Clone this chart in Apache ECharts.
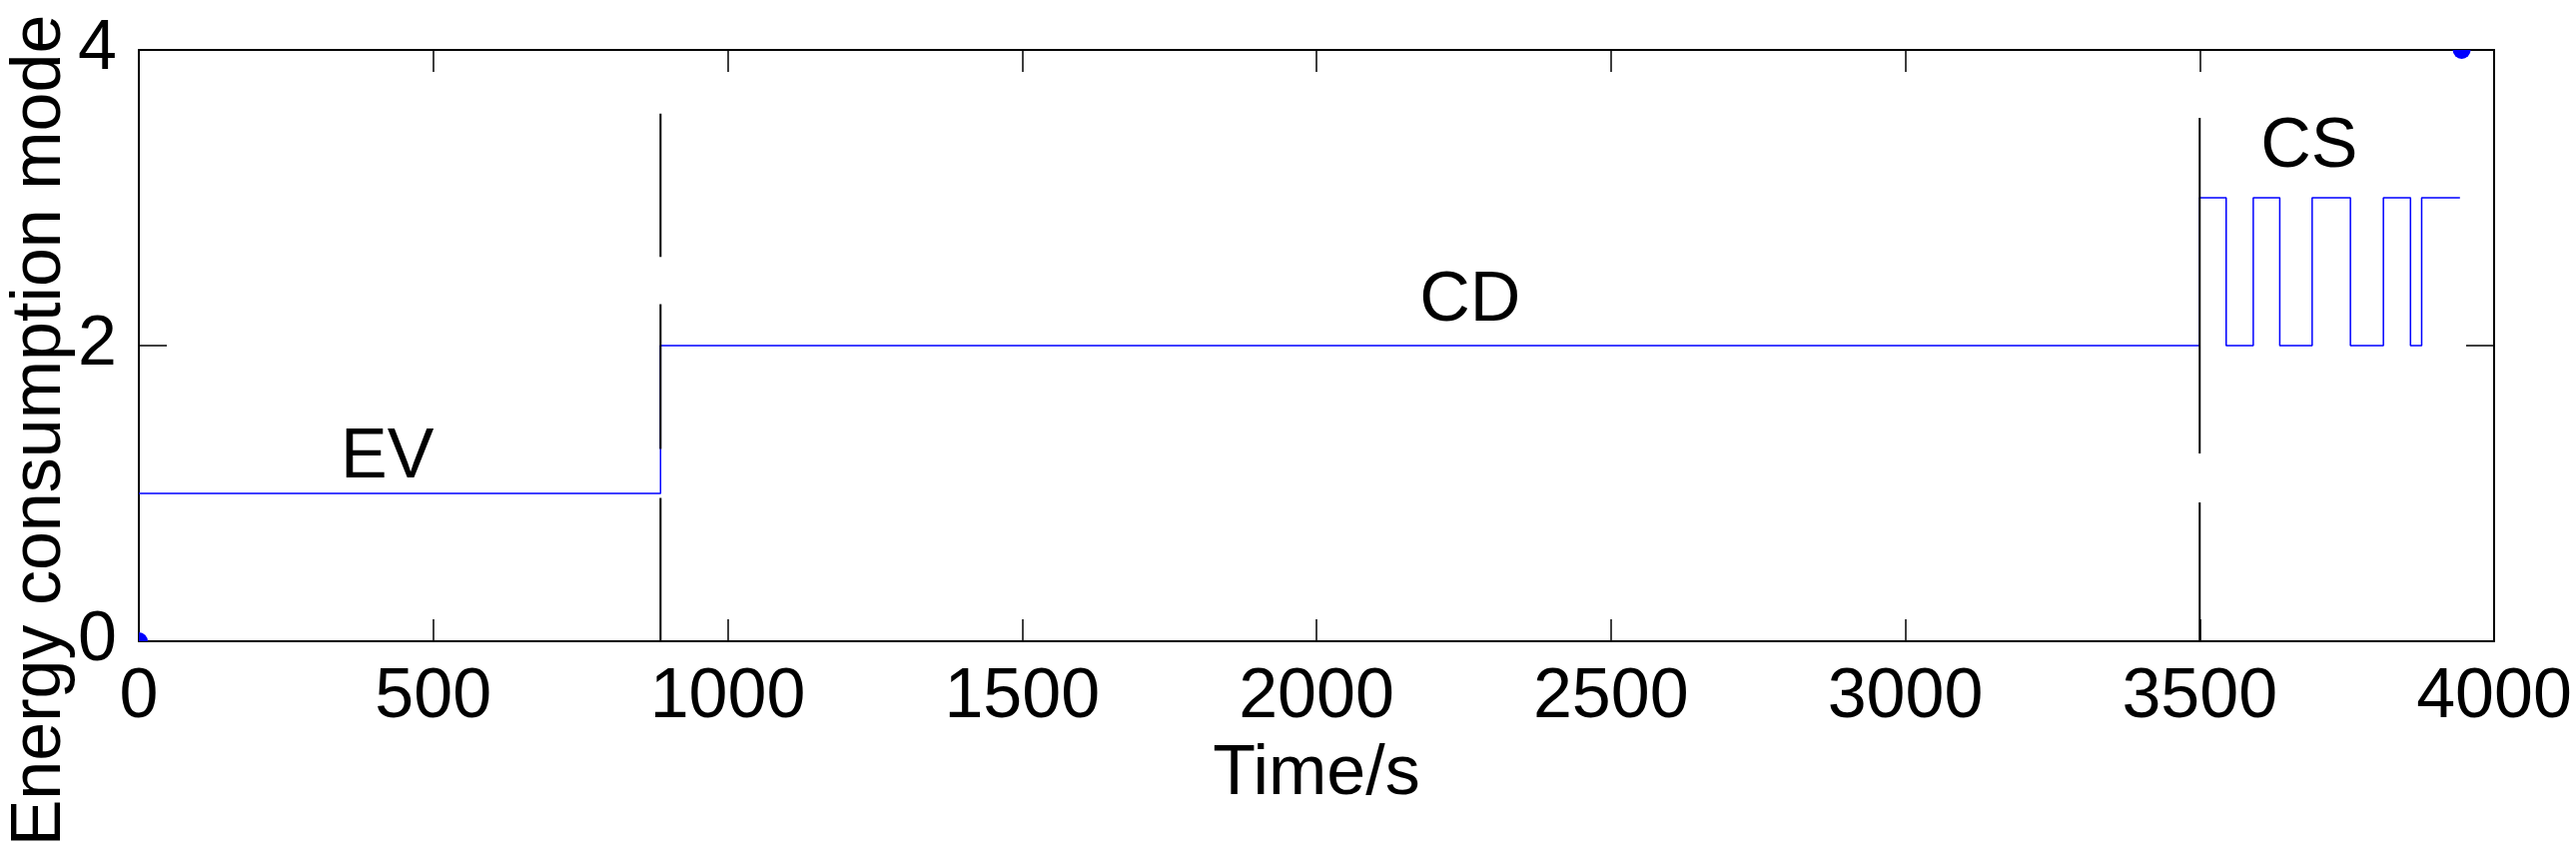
<!DOCTYPE html>
<html>
<head>
<meta charset="utf-8">
<title>Energy consumption mode</title>
<script src="https://cdn.jsdelivr.net/npm/echarts@6/dist/echarts.min.js"></script>
<style>
	html, body { margin: 0; padding: 0; background: #ffffff; }
	#main { width: 2579px; height: 860px; }
</style>
</head>
<body>
<div id="main"></div>
<script>
// 模式切换时刻 (s) 与对应模式
var switchTimes = [0, 886, 3500, 3545, 3591, 3636, 3691, 3756, 3812, 3858, 3877, 3942];
var modeValues = [1, 2, 3, 2, 3, 2, 3, 2, 3, 2, 3, 3];

// 两端的蓝色圆点
var dotTimes = [0, 3945];
var dotModes = [0, 4];

// 区域文字
var stageNames = ['EV', 'CD', 'CS'];
var stageTimes = [422, 2261, 3686];
var stageModes = [1.24, 2.30, 3.34];

// 分隔虚线 (时刻 + 每段的上下端)
var dividerTimes = [886, 3500];
var dividerDashes = [
	[[0, 0.97], [1.30, 2.28], [2.60, 3.57]],
	[[0, 0.94], [1.27, 3.54]]
];

var xTicks = [0, 4000, 500];
var yTicks = [0, 4, 2];

var fontName = 'Liberation Sans, Arial, sans-serif';

var stepData = [];
for (var i = 0; i < switchTimes.length; i++) {
	stepData.push([switchTimes[i], modeValues[i]]);
}
var dotData = [];
for (var i = 0; i < dotTimes.length; i++) {
	dotData.push([dotTimes[i], dotModes[i]]);
}
var labelData = [];
for (var i = 0; i < stageNames.length; i++) {
	labelData.push([stageTimes[i], stageModes[i]]);
}
var dividerSeries = [];
for (var i = 0; i < dividerTimes.length; i++) {
	var d = [];
	for (var j = 0; j < dividerDashes[i].length; j++) {
		if (j > 0) d.push([dividerTimes[i], '-']);
		d.push([dividerTimes[i], dividerDashes[i][j][0]]);
		d.push([dividerTimes[i], dividerDashes[i][j][1]]);
	}
	dividerSeries.push({
		type : 'line',
		data : d,
		showSymbol : false,
		connectNulls : false,
		lineStyle : { color : '#000000', width : 2 },
		z : 3
	});
}

var axisLineStyle = { color : '#000000', width : 2 };
var tickStyle = { color : '#000000', width : 1.5 };

function plainNumber(v) {
	return String(v);
}

var obj = echarts.init(document.getElementById('main'), null, { renderer : 'canvas' });
var option = {
	animation : false,
	backgroundColor : '#ffffff',
	textStyle : { fontFamily : fontName },
	grid : {
		left : 139,
		right : 82,
		top : 50,
		bottom : 218,
		containLabel : false,
		outerBoundsMode : 'none'
	},
	xAxis : [
		{
			type : 'value',
			position : 'bottom',
			min : xTicks[0],
			max : xTicks[1],
			interval : xTicks[2],
			name : 'Time/s',
			nameLocation : 'middle',
			nameGap : 99,
			nameMoveOverlap : false,
			nameTextStyle : { color : '#000000', fontSize : 70, fontFamily : fontName },
			axisLine : { show : true, onZero : false, lineStyle : axisLineStyle },
			axisTick : { show : true, inside : true, length : 22, lineStyle : tickStyle },
			axisLabel : { color : '#000000', fontSize : 70, fontFamily : fontName, margin : 22, formatter : plainNumber },
			splitLine : { show : false }
		},
		{
			type : 'value',
			position : 'top',
			min : xTicks[0],
			max : xTicks[1],
			interval : xTicks[2],
			axisLine : { show : true, onZero : false, lineStyle : axisLineStyle },
			axisTick : { show : true, inside : true, length : 22, lineStyle : tickStyle },
			axisLabel : { show : false },
			splitLine : { show : false }
		}
	],
	yAxis : [
		{
			type : 'value',
			position : 'left',
			min : yTicks[0],
			max : yTicks[1],
			interval : yTicks[2],
			name : 'Energy consumption mode',
			nameLocation : 'middle',
			nameGap : 63,
			nameMoveOverlap : false,
			// 名称整体下移, 与原图一致
			nameTextStyle : { color : '#000000', fontSize : 70, fontFamily : fontName, padding : [0, 170, 0, 0] },
			axisLine : { show : true, onZero : false, lineStyle : axisLineStyle },
			axisTick : { show : true, inside : true, length : 28, lineStyle : tickStyle },
			axisLabel : { color : '#000000', fontSize : 70, fontFamily : fontName, margin : 22 },
			splitLine : { show : false }
		},
		{
			type : 'value',
			position : 'right',
			min : yTicks[0],
			max : yTicks[1],
			interval : yTicks[2],
			axisLine : { show : true, onZero : false, lineStyle : axisLineStyle },
			axisTick : { show : true, inside : true, length : 28, lineStyle : tickStyle },
			axisLabel : { show : false },
			splitLine : { show : false }
		}
	],
	series : [
		{
			name : 'mode',
			type : 'line',
			step : 'end',
			data : stepData,
			showSymbol : false,
			lineStyle : { color : '#0000ff', width : 1.5 },
			z : 2
		},
		dividerSeries[0],
		dividerSeries[1],
		{
			type : 'custom',
			coordinateSystem : 'cartesian2d',
			clip : true,
			data : dotData,
			z : 4,
			renderItem : function(params, api) {
				var p = api.coord([api.value(0), api.value(1)]);
				return {
					type : 'circle',
					shape : { cx : p[0], cy : p[1], r : 9 },
					style : { fill : '#0000ff' }
				};
			}
		},
		{
			type : 'custom',
			coordinateSystem : 'cartesian2d',
			xAxisIndex : 1,
			yAxisIndex : 1,
			clip : false,
			silent : true,
			data : labelData,
			z : 5,
			renderItem : function(params, api) {
				var p = api.coord([api.value(0), api.value(1)]);
				return {
					type : 'text',
					x : p[0],
					y : p[1],
					style : {
						text : stageNames[params.dataIndex],
						fill : '#000000',
						font : '70px ' + fontName,
						align : 'center',
						verticalAlign : 'middle'
					}
				};
			}
		}
	]
};
obj.setOption(option);
</script>
</body>
</html>
